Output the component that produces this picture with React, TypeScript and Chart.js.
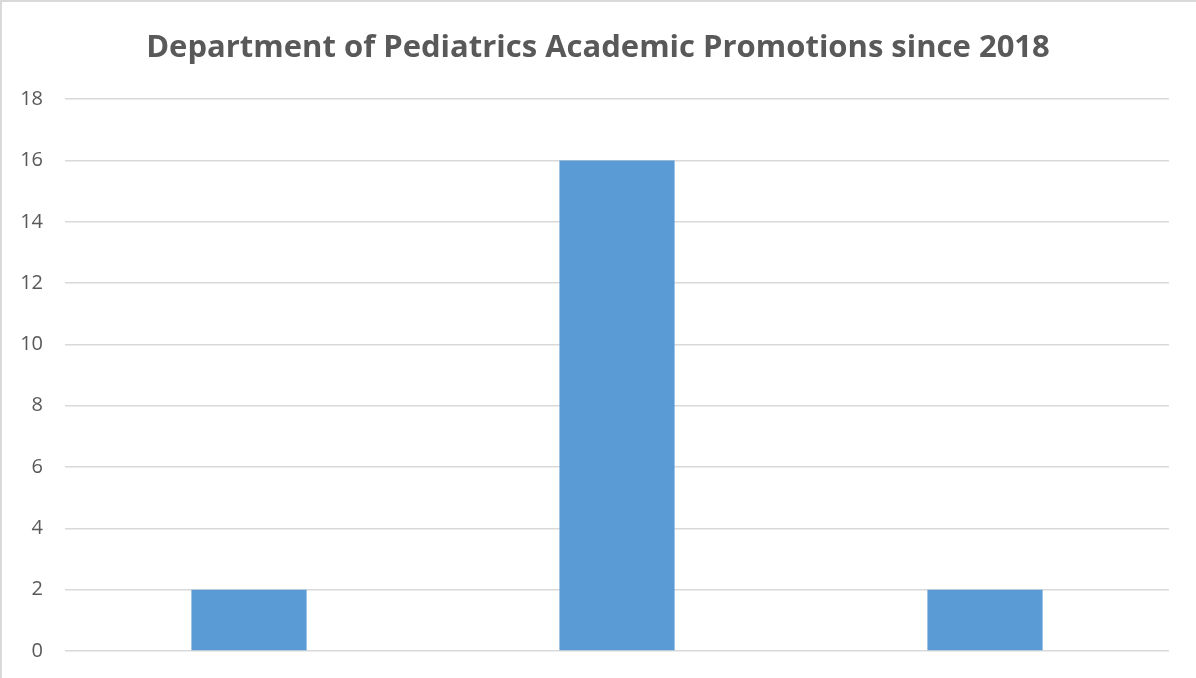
import React, { useEffect, useRef } from "react";
import { Chart, registerables } from "chart.js";

Chart.register(...registerables);

const categories = ["Category 1", "Category 2", "Category 3"];
const promotions = [2, 16, 2];
const yTicks = [0, 2, 4, 6, 8, 10, 12, 14, 16, 18];
const titleText = "Department of Pediatrics Academic Promotions since 2018";

export default function App() {
  const ref = useRef<HTMLCanvasElement | null>(null);

  useEffect(() => {
    document.body.style.margin = "0";
    const canvas = ref.current;
    if (!canvas) return;
    const chart = new Chart(canvas, {
      type: "bar",
      data: {
        labels: categories,
        datasets: [
          {
            label: "Promotions",
            data: promotions,
            backgroundColor: "#5b9bd5",
            borderWidth: 0,
            categoryPercentage: 1,
            barPercentage: 0.313,
          },
        ],
      },
      options: {
        animation: false,
        responsive: false,
        maintainAspectRatio: false,
        layout: { padding: { left: 0, right: 0, top: 0, bottom: 27 } },
        plugins: {
          legend: { display: false },
          tooltip: { enabled: false },
          title: {
            display: true,
            text: titleText,
            color: "#595959",
            font: { family: "'Open Sans'", size: 31, weight: "bold", lineHeight: 1.2 },
            padding: { top: 30, bottom: 32 },
          },
        },
        scales: {
          x: {
            grid: { display: false },
            border: { display: false },
            ticks: { display: false },
            afterFit: (s: any) => {
              s.height = 0;
            },
          },
          y: {
            min: 0,
            max: 18,
            afterBuildTicks: (s: any) => {
              s.ticks = yTicks.map((v) => ({ value: v }));
            },
            grid: { color: "#d9d9d9", lineWidth: 1.5, drawTicks: false },
            border: { display: false },
            ticks: {
              color: "#595959",
              font: { family: "'Open Sans'", size: 20 },
              padding: 22,
            },
            afterFit: (s: any) => {
              s.width = 65;
              s.paddingBottom = 0;
              s.paddingTop = 0;
            },
          },
          yRight: {
            position: "right",
            display: true,
            min: 0,
            max: 18,
            grid: { display: false },
            border: { display: false },
            ticks: { display: false },
            afterFit: (s: any) => {
              s.width = 27;
              s.paddingBottom = 0;
              s.paddingTop = 0;
            },
          },
        },
      },
    });
    return () => chart.destroy();
  }, []);

  return (
    <div
      style={{
        width: 1196,
        height: 678,
        boxSizing: "border-box",
        borderLeft: "2px solid #d9d9d9",
        borderTop: "2px solid #d9d9d9",
        background: "#fff",
        position: "relative",
      }}
    >
      <canvas
        ref={ref}
        width={1196}
        height={678}
        style={{ position: "absolute", left: -2, top: -2, width: 1196, height: 678 }}
      />
    </div>
  );
}
